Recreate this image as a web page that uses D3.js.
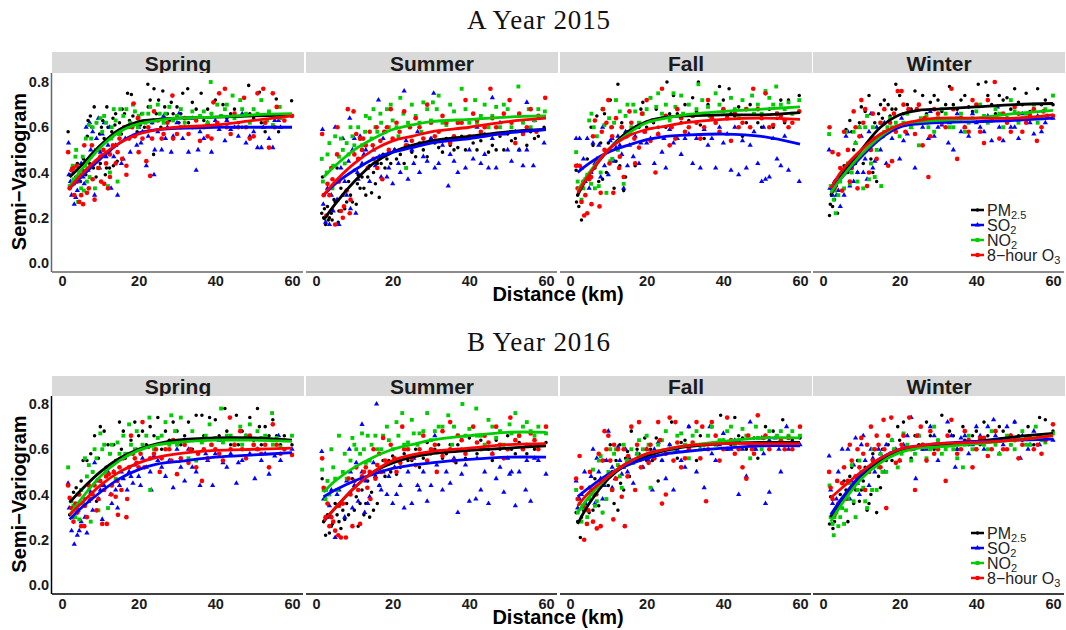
<!DOCTYPE html>
<html>
<head>
<meta charset="utf-8">
<script src="https://cdnjs.cloudflare.com/ajax/libs/d3/7.8.5/d3.min.js"></script>
<style>
  html, body { margin: 0; padding: 0; background: #fff; }
  svg { display: block; }
  text { font-family: "Liberation Sans", Arial, sans-serif; }
</style>
</head>
<body>
<svg width="1066" height="630"></svg>
<script>
const seasons = ["Spring", "Summer", "Fall", "Winter"];
const yearTitles = ["A", "B"];
const years = ["Year 2015", "Year 2016"];
const pollutants = ["PM", "SO", "NO", "8\u2212hour O"];
const pollutantSubs = ["2.5", "2", "2", "3"];
const xTicks = [0, 20, 40, 60];
const yTicks = [0, 0.2, 0.4, 0.6, 0.8];

// km positions the fitted curves were read at
const curveKm = [2, 5, 10, 15, 20, 25, 30, 40, 50, 60];

// fitted curves, order PM2.5, SO2, NO2, O3
const curves15Spring = [
  [.38,.43,.52,.59,.625,.635,.64,.645,.65,.655],
  [.33,.38,.46,.53,.575,.59,.595,.60,.60,.60],
  [.34,.41,.51,.58,.615,.63,.64,.645,.655,.66],
  [.33,.39,.47,.53,.57,.59,.60,.61,.63,.65]];
const curves15Summer = [
  [.19,.26,.36,.44,.49,.52,.54,.56,.58,.59],
  [.30,.35,.41,.46,.49,.51,.53,.55,.575,.59],
  [.38,.43,.50,.55,.59,.61,.625,.635,.645,.65],
  [.30,.36,.44,.50,.54,.56,.58,.60,.625,.64]];
const curves15Fall = [
  [.30,.39,.50,.58,.625,.645,.65,.655,.655,.665],
  [.40,.44,.49,.52,.545,.56,.565,.57,.56,.525],
  [.32,.40,.50,.57,.62,.64,.655,.67,.68,.69],
  [.31,.39,.50,.56,.59,.605,.62,.635,.64,.635]];
const curves15Winter = [
  [.30,.39,.50,.60,.655,.675,.68,.69,.70,.705],
  [.32,.38,.47,.55,.60,.615,.62,.625,.63,.64],
  [.31,.38,.48,.56,.61,.625,.63,.64,.66,.675],
  [.33,.41,.50,.57,.61,.63,.64,.64,.64,.655]];
const curves16Spring = [
  [.365,.42,.50,.56,.60,.625,.64,.65,.65,.64],
  [.29,.34,.41,.47,.51,.535,.545,.565,.575,.585],
  [.31,.38,.48,.55,.595,.62,.63,.64,.64,.635],
  [.31,.36,.44,.50,.54,.565,.58,.595,.60,.605]];
const curves16Summer = [
  [.28,.34,.43,.50,.54,.565,.58,.595,.605,.615],
  [.39,.42,.46,.49,.515,.53,.54,.555,.565,.565],
  [.41,.46,.52,.565,.60,.62,.64,.66,.675,.675],
  [.285,.34,.43,.50,.55,.575,.59,.605,.62,.625]];
const curves16Fall = [
  [.27,.36,.47,.535,.57,.595,.61,.625,.63,.63],
  [.39,.43,.49,.53,.56,.58,.59,.605,.615,.615],
  [.32,.39,.48,.54,.58,.60,.615,.635,.65,.65],
  [.35,.41,.48,.54,.58,.60,.615,.625,.625,.625]];
const curves16Winter = [
  [.30,.38,.48,.55,.59,.61,.62,.635,.655,.67],
  [.31,.385,.49,.56,.60,.615,.625,.635,.64,.645],
  [.28,.36,.47,.54,.585,.605,.61,.625,.64,.66],
  [.385,.43,.50,.56,.60,.615,.625,.63,.64,.66]];

// semivariogram points [km, value]
const pts15SpringPM = [[1.6,.58],[2,.39],[2.6,.42],[3.6,.38],[4.5,.36],[5.5,.41],[6.8,.63],[7.4,.65],[8.4,.69],[8.9,.38],[9.8,.57],[10.3,.6],[11.7,.69],[11.3,.39],[12.4,.42],[13.3,.64],[13.4,.43],[14,.66],[15.7,.68],[17.1,.75],[18.1,.745],[18.5,.65],[20.4,.61],[22.4,.79],[23,.72],[23.9,.48],[24,.77],[25.2,.72],[26.3,.76],[27.5,.66],[28.5,.71],[30,.69],[31.5,.75],[32.8,.77],[34,.71],[36.3,.75],[38,.68],[40,.72],[42,.7],[44,.66],[46,.62],[48.7,.785],[50,.64],[51.5,.755],[53,.58],[55.9,.725],[56.5,.58],[59.9,.717],
  [3,.4],[4,.44],[4.8,.36],[5.6,.46],[6.2,.39],[6.6,.56],[7.2,.44],[7.8,.6],[8.2,.42],[9,.62],[9.4,.5],[10,.44],[10.6,.63],[11,.55],[11.6,.42],[12,.6],[12.6,.5],[13,.58],[13.8,.61],[14.4,.45],[15,.62],[15.5,.57],[16.3,.66],[16.8,.6],[17.6,.63],[19,.67],[19.6,.58],[20.8,.66],[21.5,.6],[22.5,.69],[23.5,.62],[24.6,.66],[25.8,.6],[26.8,.69],[28,.63],[29,.66],[30.5,.62],[31,.66],[33,.62],[35,.68],[37,.63],[39,.66],[41,.6],[43,.64],[45,.68],[47,.6],[49,.66],[52,.62],[54,.66],[57,.64]];
const pts15SpringSO = [[1.7,.53],[1.8,.39],[2.5,.3],[3.2,.26],[3.6,.29],[4.5,.36],[5.8,.35],[6.3,.6],[7.2,.62],[8,.58],[8.5,.3],[9.5,.64],[10,.49],[11,.62],[12,.52],[12.8,.33],[13.5,.47],[14.5,.3],[16,.46],[17.8,.49],[19.5,.52],[21,.58],[22,.43],[24,.39],[24.2,.5],[26,.5],[27,.55],[28.5,.49],[30,.62],[31.5,.55],[33,.49],[35,.41],[35.5,.5],[37,.55],[39,.49],[40,.63],[42.5,.54],[44,.59],[46,.56],[48,.53],[50,.58],[51,.51],[52,.51],[54,.55],[55,.51],[56.5,.63],[57,.6],
  [2.2,.36],[3,.35],[4,.32],[5,.44],[5.5,.38],[6.8,.41],[7.5,.5],[8.2,.44],[9,.55],[9.8,.42],[10.5,.57],[11.5,.47],[12.4,.6],[13,.56],[14,.52],[15,.57],[15.5,.44],[16.5,.55],[17.3,.6],[18.5,.56],[20,.6],[20.6,.53],[22.5,.56],[23.5,.62],[25,.58],[26.5,.65],[27.5,.6],[29,.56],[30.5,.66],[32,.6],[34,.64],[36,.58],[38,.62],[41,.59],[43,.63],[45,.6],[47,.66],[49,.56],[52.5,.6],[55.5,.63]];
const pts15SpringNO = [[2,.34],[2.8,.43],[3.5,.47],[3.7,.5],[4.2,.27],[5,.33],[5.4,.47],[6,.43],[6.5,.36],[7,.61],[7.6,.55],[8.6,.33],[9,.62],[10,.64],[11,.65],[12,.34],[12.5,.4],[13.5,.68],[14.5,.36],[15.2,.68],[17,.6],[18.5,.7],[20,.65],[21,.66],[23,.69],[25,.7],[27,.66],[29,.63],[31,.68],[33,.64],[35,.6],[37,.67],[38.8,.8],[39,.66],[40.5,.7],[43,.7],[44.5,.74],[46.5,.72],[48,.66],[50,.68],[52,.72],[53.5,.63],[55,.61],[56.8,.69],[58,.65],
  [3,.37],[4.5,.4],[5.7,.32],[6.2,.55],[7.2,.38],[8,.6],[8.8,.5],[9.5,.42],[10.5,.58],[11.5,.62],[12.8,.55],[13,.6],[14,.63],[15,.57],[16,.65],[16.8,.68],[17.8,.62],[19,.67],[19.8,.6],[21.8,.62],[22.5,.66],[24,.63],[25.5,.66],[26.5,.62],[28,.69],[30,.65],[32,.62],[34,.67],[36,.65],[38,.62],[41.5,.65],[42.5,.68],[45,.64],[47,.68],[49,.62],[51,.66],[54,.67],[57,.64]];
const pts15SpringO3 = [[1.6,.49],[2,.33],[2.5,.41],[3.2,.3],[3.8,.43],[4.5,.27],[5.5,.26],[5.8,.52],[6.5,.31],[7.5,.47],[8.5,.28],[9.5,.42],[10.2,.36],[11,.35],[12,.33],[12.5,.38],[14,.44],[15,.55],[16.8,.39],[16.8,.43],[18.7,.705],[20,.49],[22,.45],[23,.385],[24,.67],[26,.55],[28.8,.74],[30,.57],[32,.64],[34,.6],[36,.54],[38,.56],[39.5,.71],[41,.75],[42.5,.77],[44,.57],[46,.6],[47.5,.73],[49,.55],[51,.75],[52.5,.77],[54,.51],[55,.75],[56,.69],[57,.65],[60,.65],
  [3,.42],[4,.36],[5,.3],[6,.4],[7,.33],[7.8,.52],[8,.37],[9,.45],[10,.47],[10.8,.5],[11.5,.44],[12.5,.48],[13.3,.52],[14.5,.49],[15.7,.46],[16.2,.6],[17.5,.55],[18.3,.6],[19,.56],[19.8,.64],[21,.55],[22.5,.6],[23.5,.55],[25,.63],[26.5,.57],[27.5,.62],[29,.55],[31,.6],[33,.57],[35,.63],[37,.6],[39,.55],[40.5,.62],[43,.6],[45,.66],[48,.6],[50,.56],[53,.62],[55.5,.6],[58,.63]];

const pts15SummerPM = [[1.5,.22],[1.7,.38],[2,.2],[2.5,.17],[3,.25],[3.5,.2],[4.2,.19],[5,.27],[5.5,.42],[6,.23],[7,.3],[8,.27],[9,.3],[10,.41],[10.5,.26],[11.5,.33],[12.5,.33],[13.5,.38],[14.5,.31],[15.5,.35],[16.5,.29],[17,.44],[18,.42],[19,.49],[21,.46],[23,.44],[25,.49],[27,.53],[29,.47],[31,.53],[33,.49],[35,.52],[37,.51],[39,.5],[41,.53],[43,.54],[45,.49],[47,.5],[49,.5],[51,.54],[53,.5],[55,.52],[57,.55],[59.5,.6],
  [2.2,.24],[3.2,.19],[4,.22],[4.7,.28],[5.8,.18],[6.5,.33],[7.5,.24],[8.5,.36],[9.5,.27],[10.8,.35],[11,.39],[12,.38],[13,.3],[14,.43],[15,.4],[16,.44],[17.5,.48],[18.5,.46],[19.5,.44],[20.5,.5],[22,.48],[24,.52],[26,.47],[28,.5],[30,.55],[32,.51],[34,.55],[36,.5],[38,.56],[40,.55],[42,.5],[44,.57],[46,.52],[48,.56],[50,.57],[52,.55],[54,.57],[56,.58],[58,.56]];
const pts15SummerSO = [[1.7,.59],[1.9,.26],[2.5,.18],[3.5,.17],[4.5,.23],[5,.6],[6,.17],[7,.55],[8,.3],[8.8,.64],[9,.24],[10,.55],[10.4,.22],[11,.37],[12.5,.48],[13.5,.42],[15,.5],[16.3,.72],[17,.38],[18.5,.38],[20,.35],[21.5,.44],[23,.76],[24,.37],[25,.5],[27,.4],[29,.45],[30.7,.75],[32,.44],[34.5,.34],[35,.48],[37,.4],[39,.42],[41,.46],[43,.44],[45,.42],[46,.73],[47,.42],[49,.57],[51,.45],[53,.5],[54,.43],[55,.71],[56.7,.43],[59.5,.53],
  [3,.33],[4,.3],[5.5,.28],[6.5,.42],[7.5,.36],[8.5,.45],[9.5,.5],[10.8,.4],[11.5,.56],[12,.44],[13,.5],[14,.36],[15.5,.43],[16.5,.47],[17.5,.55],[19,.42],[20.5,.5],[22,.4],[23.5,.54],[25.5,.44],[26.5,.58],[28,.47],[30,.55],[31,.42],[33,.52],[36,.45],[38,.55],[40,.5],[42,.6],[44,.48],[46,.55],[48,.62],[50,.5],[52,.58],[55,.5],[57,.63]];
const pts15SummerNO = [[1.5,.46],[1.8,.36],[2.8,.4],[3.5,.53],[4.3,.33],[5,.56],[6,.47],[7,.5],[8,.53],[9,.6],[10,.52],[11.5,.55],[13,.65],[14,.64],[15.5,.6],[16.8,.66],[18,.58],[19.5,.7],[21,.6],[22,.73],[23.5,.42],[25,.7],[27,.62],[29,.68],[30.5,.71],[32,.74],[34,.61],[36,.67],[38,.77],[40,.62],[41.5,.72],[43,.65],[45,.6],[47,.69],[49,.7],[51,.6],[52.8,.78],[54,.62],[55.5,.68],[57,.63],[59.7,.67],
  [3,.48],[4.5,.43],[6.5,.55],[7.5,.44],[8.5,.48],[9.5,.56],[11,.6],[12,.52],[12.8,.58],[14.5,.55],[15,.68],[16,.58],[17,.62],[18.5,.68],[19,.6],[20,.63],[21.5,.56],[22.8,.66],[24,.62],[26,.65],[27.5,.58],[28,.71],[30,.63],[31.5,.68],[33,.62],[35,.7],[37,.62],[39,.68],[42,.62],[44,.7],[46,.65],[48,.6],[50,.68],[53,.65],[56,.6],[58,.68]];
const pts15SummerO3 = [[1.6,.57],[2,.3],[2.7,.21],[3.5,.3],[4.3,.37],[5,.17],[5.6,.6],[6.5,.23],[7.3,.25],[8.3,.68],[9,.28],[9.8,.67],[10.5,.57],[11,.46],[12.3,.55],[13.5,.42],[15,.46],[16,.42],[17.3,.37],[18.5,.6],[19.5,.68],[21,.62],[23,.67],[25,.54],[27,.6],[29,.7],[31,.56],[33,.65],[35,.53],[37,.62],[39,.72],[41,.66],[43,.58],[45.5,.77],[47,.6],[49,.66],[50.5,.72],[52,.53],[54,.57],[56,.68],[57.5,.58],[59.8,.73],
  [3,.35],[4,.42],[5.5,.48],[6,.36],[7,.2],[8,.32],[8.8,.22],[10,.48],[11.5,.55],[12,.5],[13,.52],[14,.58],[14.8,.52],[15.8,.6],[16.8,.54],[17.8,.58],[19,.5],[20,.55],[21.8,.58],[23.5,.52],[24.5,.6],[26,.64],[28,.55],[30,.62],[32,.58],[34,.62],[36,.56],[38,.62],[40,.56],[42,.63],[44,.6],[46,.64],[48,.57],[51,.62],[53,.66],[55,.6],[58,.65]];

const pts15FallPM = [[1.6,.41],[1.7,.27],[2,.3],[2.3,.25],[3,.19],[4.5,.46],[6,.52],[7,.65],[8,.53],[8.5,.37],[9,.66],[10,.53],[10.5,.72],[11.5,.33],[12.5,.79],[13,.43],[14,.32],[15.5,.67],[17,.43],[19,.71],[21,.73],[23,.6],[24,.64],[25.3,.8],[27,.74],[29,.62],[30,.7],[32,.73],[33.5,.8],[35,.55],[37,.65],[39,.78],[40,.72],[41.5,.77],[43,.65],[45,.56],[47,.7],[49,.62],[51,.75],[53,.6],[55,.72],[57,.72],[59.8,.74],
  [3.5,.36],[5,.38],[5.5,.6],[6.5,.42],[7.5,.36],[9.5,.4],[11,.6],[12,.45],[13.5,.62],[14.5,.38],[15,.58],[16,.62],[18,.6],[18.5,.68],[20,.6],[21.8,.62],[22.5,.68],[25,.6],[26,.66],[28,.66],[31,.63],[33,.67],[34,.61],[36,.7],[38,.62],[42,.66],[44,.69],[46,.62],[48,.66],[50,.6],[52,.68],[54,.64],[56,.62],[58,.66]];
const pts15FallSO = [[1.6,.55],[1.9,.43],[2.5,.55],[3.5,.46],[4.5,.55],[5,.33],[6,.53],[7,.46],[8.5,.6],[9.5,.49],[10,.39],[11,.55],[12,.51],[13.5,.48],[14,.33],[15,.43],[16.5,.47],[18,.44],[20,.53],[22,.44],[24,.49],[25,.42],[27,.53],[29,.48],[30,.55],[32,.44],[34,.42],[36,.52],[38,.42],[40,.53],[42,.41],[44,.39],[46,.42],[47,.52],[49,.44],[50,.36],[51,.37],[52,.38],[54,.46],[55,.43],[57,.41],[59.8,.36],
  [3,.42],[4,.36],[5.5,.4],[6.5,.44],[7.5,.52],[8,.38],[9,.43],[10.5,.54],[11.5,.45],[12.5,.56],[13,.52],[14.5,.58],[15.5,.52],[17,.56],[18.5,.53],[19.5,.58],[21,.55],[23,.57],[24.5,.55],[26,.59],[28,.55],[31,.57],[33,.55],[35,.59],[37,.55],[39,.6],[41,.57],[43,.6],[45,.54],[48,.58],[50.5,.6],[53,.55],[56,.56]];
const pts15FallNO = [[1.6,.49],[2,.36],[3,.28],[4,.37],[5,.63],[5.6,.66],[6.5,.33],[7.5,.34],[8.5,.68],[9.5,.31],[10.2,.64],[11,.46],[12,.72],[13,.67],[14,.35],[15,.7],[17,.67],[19,.66],[21,.73],[23,.75],[25,.7],[27,.75],[29,.74],[31,.7],[33,.68],[33.5,.79],[36,.69],[38,.75],[40,.67],[42,.73],[44,.64],[46,.68],[47.5,.74],[49,.7],[51,.76],[53,.7],[53.8,.78],[55,.7],[57,.71],[59.8,.72],
  [3.5,.33],[4.5,.39],[5.5,.35],[6.2,.6],[7,.56],[8,.4],[9,.61],[10.5,.45],[11.5,.62],[12.5,.5],[13.5,.6],[14.5,.65],[16,.6],[16.5,.7],[18,.62],[20,.68],[21.5,.63],[22.5,.69],[24,.66],[26,.63],[27.5,.69],[29.5,.66],[32,.65],[34.5,.72],[36.5,.65],[39,.7],[41,.64],[43,.68],[45,.72],[48,.66],[50,.66],[52,.73],[54,.66],[56,.68],[58,.66]];
const pts15FallO3 = [[1.6,.43],[2,.33],[2.5,.43],[3,.27],[3.7,.21],[4.5,.22],[5,.37],[5.6,.26],[6.5,.63],[7.7,.25],[8,.31],[8.6,.68],[9.5,.62],[10,.72],[10.3,.44],[11.3,.31],[13,.47],[14,.38],[15.5,.67],[17,.44],[18,.51],[20,.72],[21,.54],[22.3,.4],[24,.77],[26,.52],[28,.68],[30,.58],[32,.65],[34,.55],[36,.72],[38,.62],[40,.68],[42,.54],[44,.6],[46,.68],[47.8,.77],[49,.68],[51,.75],[53,.61],[55,.65],[57,.6],[59.8,.67],
  [3.5,.36],[4,.3],[5.5,.38],[6,.56],[7,.45],[8.3,.58],[9,.5],[10.8,.6],[11,.56],[12,.64],[12.8,.42],[13.5,.6],[14.8,.56],[16,.62],[16.8,.55],[18.8,.66],[19.5,.58],[21.5,.63],[23,.57],[25,.65],[26.5,.6],[27.5,.55],[29,.64],[31,.6],[33,.62],[35,.6],[37,.64],[39,.58],[41,.64],[43,.66],[45,.62],[47,.6],[50,.64],[52,.6],[54,.66],[56,.63],[58,.62]];

const pts15WinterPM = [[1.7,.21],[1.9,.26],[2.5,.25],[3,.28],[3.8,.22],[5,.39],[6,.59],[7,.63],[8,.5],[9,.4],[10,.69],[11,.67],[12,.74],[13,.4],[14,.36],[15,.7],[16,.72],[18,.68],[19,.79],[20,.74],[22,.7],[24,.76],[26,.74],[28,.71],[30,.72],[32,.7],[33,.78],[35,.68],[37,.74],[39,.67],[40.5,.79],[42.5,.8],[44,.7],[46,.74],[48,.73],[50,.77],[51,.71],[53,.75],[55,.68],[56,.77],[58,.72],[60,.7],
  [2.2,.3],[3.5,.34],[4.5,.38],[5.5,.43],[6.5,.4],[7.5,.58],[8.5,.44],[9.5,.62],[10.5,.44],[11.5,.5],[12.5,.46],[13.5,.62],[14.5,.66],[15.5,.64],[17,.7],[17.5,.65],[19,.68],[21,.66],[23,.68],[25,.7],[27,.66],[29,.74],[31,.67],[34,.7],[36,.72],[38,.69],[41,.7],[43,.74],[45,.66],[47,.72],[49,.68],[52,.7],[54,.67],[57,.7]];
const pts15WinterSO = [[1.6,.5],[1.8,.33],[2.5,.3],[3.5,.3],[4.5,.25],[5.5,.3],[6,.56],[7,.34],[8.5,.53],[9.5,.6],[10.5,.4],[11.5,.37],[12.5,.66],[13.5,.45],[15,.5],[16.5,.44],[18,.55],[20,.46],[22,.57],[24,.42],[26,.6],[27.5,.55],[29,.56],[31,.61],[32.7,.53],[34,.5],[36,.58],[38,.56],[40,.62],[42,.58],[44,.54],[45.5,.69],[47,.54],[49,.6],[51,.55],[53,.64],[55,.57],[57,.58],[60,.64],
  [3,.36],[4,.32],[5,.4],[6.5,.58],[7.5,.44],[8,.36],[9,.4],[10,.56],[11,.46],[12,.58],[13,.42],[14,.6],[15.5,.56],[16,.62],[17,.58],[19,.6],[20.5,.64],[21,.54],[23,.6],[25,.62],[27,.62],[28,.67],[30,.6],[33,.62],[35,.66],[37,.6],[39,.66],[41,.6],[43,.65],[46,.6],[48,.64],[50,.6],[52,.66],[54,.62],[56,.65],[58,.62]];
const pts15WinterNO = [[1.6,.57],[2,.34],[2.8,.28],[3.3,.22],[4,.3],[5,.4],[6,.58],[7,.35],[8.5,.53],[9.5,.6],[10.5,.33],[11.5,.65],[12.5,.44],[13.5,.38],[15.2,.34],[16,.58],[18,.6],[20,.56],[22,.66],[24,.62],[25,.52],[27,.65],[29,.58],[31,.68],[33,.6],[35,.64],[37,.58],[39,.64],[41,.7],[43,.62],[45,.68],[47,.6],[49,.72],[51,.62],[53,.66],[55,.7],[57,.64],[60,.74],
  [3,.32],[4.5,.36],[5.5,.33],[6.5,.44],[7.5,.4],[8,.58],[9,.36],[10,.48],[11,.6],[12,.37],[13,.6],[14,.5],[15,.62],[16.8,.6],[17.5,.64],[19,.62],[21,.62],[23,.6],[25.5,.64],[27.5,.6],[30,.64],[32,.66],[34,.6],[36,.66],[38,.62],[40,.67],[42,.65],[44,.63],[46,.66],[48,.64],[50,.67],[52,.64],[54,.66],[56,.62],[58,.68]];
const pts15WinterO3 = [[1.7,.6],[2.5,.49],[3,.33],[4,.48],[5,.32],[5.5,.58],[6,.41],[7,.36],[8,.67],[9,.33],[10,.72],[11.5,.34],[12.5,.5],[13.5,.55],[15,.62],[17,.43],[18,.45],[19.5,.76],[20.5,.76],[22.3,.68],[24,.57],[25,.7],[26,.52],[27.5,.38],[29,.68],[31,.62],[33.5,.77],[35,.46],[37,.6],[39,.72],[41,.58],[42,.53],[43,.72],[44.8,.8],[46,.55],[48,.62],[50,.69],[52,.58],[54,.65],[55.8,.54],[57.5,.67],[60,.65],
  [3.5,.36],[4.5,.42],[6.5,.5],[7.5,.42],[8.5,.6],[9.5,.56],[10.5,.62],[11,.68],[12,.4],[13,.66],[14,.46],[15.5,.56],[16,.68],[17.5,.62],[18.5,.66],[19,.58],[21,.7],[21.5,.58],[23,.62],[24.5,.68],[26.5,.64],[28,.56],[30,.66],[32,.6],[34,.68],[36,.64],[38,.58],[40,.7],[44,.63],[47,.66],[49,.58],[51,.66],[53,.62],[55,.68],[57,.6],[58.5,.65]];

const pts16SpringPM = [[2,.31],[3,.41],[3.7,.43],[4.5,.4],[5.5,.55],[6.5,.55],[7,.42],[8.5,.66],[9,.37],[10,.7],[11,.68],[12,.62],[13,.4],[14,.55],[15,.72],[16,.68],[17,.58],[19,.72],[21,.68],[23,.7],[25,.74],[27,.68],[29,.72],[31,.62],[33,.72],[35,.75],[36.5,.75],[38.5,.74],[40,.73],[42.5,.78],[44,.62],[45.5,.75],[47,.68],[49,.74],[51,.78],[51.5,.7],[53,.7],[55,.73],[56,.66],[58,.66],[60,.62],
  [2.5,.37],[4,.36],[5,.46],[6,.38],[7.5,.58],[8,.5],[9.5,.56],[10.5,.44],[11.5,.52],[12.5,.58],[13.5,.62],[14.5,.46],[15.5,.6],[16.5,.56],[18,.64],[19.5,.6],[20,.66],[22,.62],[24,.66],[26,.6],[28,.64],[30,.68],[32,.66],[34,.6],[37,.66],[39,.62],[41,.66],[43,.68],[46,.62],[48,.66],[50,.64],[52,.62],[54,.66],[57,.62]];
const pts16SpringSO = [[1.6,.45],[1.9,.34],[2.5,.24],[3.2,.18],[4,.22],[4.5,.24],[5.5,.36],[6.5,.23],[7.5,.41],[8.5,.54],[9.5,.38],[10.5,.29],[12,.5],[13,.36],[14,.42],[15.5,.5],[17,.42],[18.5,.45],[20,.48],[22,.52],[23.3,.42],[25,.55],[27,.48],[29,.43],[30,.6],[32,.46],[34,.52],[36,.44],[37.5,.58],[39.3,.44],[41,.64],[43,.52],[45.5,.45],[47,.55],[48,.66],[50.3,.47],[52,.55],[54,.49],[55.5,.57],[56.5,.66],[60,.6],
  [3,.3],[4.2,.33],[5,.28],[6,.3],[7,.37],[8,.33],[9,.46],[10,.42],[11,.44],[12.7,.4],[13.5,.5],[14.5,.34],[15,.44],[16,.47],[17.5,.5],[18,.48],[19,.53],[20.5,.44],[21,.56],[23,.5],[24,.57],[26,.52],[28,.55],[31,.52],[33,.6],[35,.5],[38,.55],[40,.58],[42,.54],[44,.58],[46,.54],[49,.58],[51,.6],[53,.58],[57,.55]];
const pts16SpringNO = [[1.6,.52],[2.3,.37],[3.5,.3],[4.5,.29],[5.5,.36],[6,.56],[7,.53],[7.5,.28],[8.5,.6],[9.5,.33],[10,.67],[10.5,.6],[12,.34],[13,.62],[14,.47],[15,.58],[16,.66],[17.5,.71],[19,.6],[20.5,.6],[22.8,.74],[23,.42],[25,.65],[27,.72],[28.5,.75],[30,.62],[31,.74],[33,.56],[35,.55],[36.5,.63],[38.5,.71],[40,.65],[41.5,.78],[43,.66],[45,.62],[46.5,.7],[49,.71],[51,.68],[53,.66],[54.8,.76],[56,.65],[57,.61],[60,.66],
  [3,.35],[4,.4],[5,.42],[6.5,.48],[8,.5],[9,.56],[11,.62],[11.5,.5],[12.5,.58],[13.5,.54],[14.5,.63],[16.5,.58],[18,.62],[19.5,.68],[21,.62],[22,.66],[24,.6],[26,.66],[28,.62],[29.5,.68],[32,.64],[34,.68],[37.5,.66],[39,.62],[42,.63],[44,.66],[47,.62],[48,.66],[50,.62],[52,.65],[55,.62],[58,.64]];
const pts16SpringO3 = [[1.6,.44],[2,.385],[3,.28],[4,.32],[5,.26],[5.8,.26],[6.5,.3],[7.5,.38],[8.5,.44],[9.5,.38],[10.5,.27],[11.7,.27],[12.2,.49],[13,.44],[14,.39],[14.6,.31],[15,.52],[16.8,.3],[17,.38],[18,.66],[19,.56],[20,.52],[21,.72],[22.5,.61],[24,.58],[25.5,.5],[27,.6],[28.5,.55],[30,.49],[32,.62],[33,.54],[35,.52],[36.5,.46],[38,.56],[40,.6],[42,.55],[43.8,.74],[45,.62],[46.5,.68],[48,.56],[50,.62],[52,.58],[54,.52],[55,.71],[57,.58],[60,.575],
  [2.5,.34],[3.5,.36],[4.5,.4],[6,.35],[7,.44],[8,.4],[9,.33],[10,.46],[11,.42],[11.5,.48],[12.8,.4],[13.5,.5],[14.4,.46],[15.5,.42],[16,.56],[17.5,.52],[18.5,.58],[19.5,.54],[20.5,.58],[21.5,.52],[23,.56],[24.5,.6],[26,.56],[28,.6],[29,.64],[31,.56],[33.5,.6],[35.5,.58],[37,.6],[39,.62],[41,.58],[44,.6],[47,.6],[49,.66],[51,.6],[53,.62],[56,.62],[58,.6]];

const pts16SummerPM = [[1.6,.47],[2,.28],[2.5,.22],[3.5,.23],[4.3,.27],[5,.36],[6,.28],[7,.33],[8,.36],[9,.41],[10,.33],[11,.26],[12,.42],[13,.36],[14,.3],[15,.33],[16,.36],[17,.52],[18,.48],[19,.55],[21,.49],[23,.58],[25,.55],[27,.52],[29,.63],[31,.6],[33,.56],[35,.62],[36.5,.54],[38,.6],[40,.65],[42,.58],[44,.62],[46,.55],[48,.6],[50,.66],[52,.58],[54,.6],[56,.62],[58,.62],[60,.63],
  [3,.31],[4,.26],[5.5,.31],[6.5,.25],[7.5,.29],[8.5,.31],[9.5,.47],[10.5,.39],[11.5,.36],[12.5,.31],[13.5,.46],[14.5,.41],[15.5,.48],[16.5,.44],[17.5,.55],[19.5,.5],[20,.57],[22,.52],[24,.55],[26,.6],[28,.56],[30,.58],[32,.62],[34,.58],[37,.62],[39,.56],[41,.6],[43,.64],[45,.6],[47,.64],[49,.62],[51,.6],[53,.63],[55,.58],[57,.6]];
const pts16SummerSO = [[1.5,.59],[2,.38],[3,.3],[4,.42],[5,.21],[6,.42],[7.5,.3],[8.7,.6],[9.5,.34],[10.5,.54],[12,.71],[12.7,.32],[14,.39],[15.5,.48],[15.8,.8],[17,.42],[18.5,.4],[20,.36],[21,.4],[23,.34],[25,.36],[27,.42],[29,.37],[31,.66],[33,.42],[35,.45],[37,.32],[38,.49],[40,.37],[41.7,.38],[43,.42],[45,.36],[47,.47],[49,.41],[50.5,.49],[52,.35],[53,.5],[54.7,.42],[56,.37],[57,.56],[60,.49],
  [2.5,.42],[3.5,.35],[5.5,.4],[6.5,.36],[8,.46],[9,.5],[10,.44],[11,.37],[12,.5],[13,.46],[13.5,.36],[15,.54],[16.5,.44],[17.5,.5],[19,.48],[20.5,.52],[22,.44],[24,.5],[25.5,.56],[26.5,.44],[28,.5],[30,.44],[31.5,.53],[34,.5],[36,.56],[39,.53],[42,.56],[44,.5],[46,.58],[48,.52],[50,.56],[51,.5],[55,.55],[58,.55]];
const pts16SummerNO = [[1.6,.51],[2,.42],[3,.46],[4,.6],[5,.47],[6,.66],[7,.5],[8,.47],[9.5,.65],[10.5,.6],[12,.67],[13,.54],[14.5,.62],[15.5,.66],[17,.6],[18.5,.7],[20,.6],[21,.72],[22.5,.76],[24,.63],[25,.73],[27,.67],[29,.76],[31,.68],[33,.7],[34.5,.75],[35.5,.62],[37,.66],[38.2,.8],[40,.69],[41.8,.78],[43,.66],[45,.73],[47,.65],[49,.62],[50.5,.71],[52,.76],[54,.7],[56,.68],[58,.7],[60,.67],
  [2.5,.38],[3.5,.4],[4.5,.52],[5.5,.42],[7.5,.58],[9,.55],[10,.62],[11.5,.58],[12.5,.6],[13.5,.66],[14,.55],[16,.6],[17.5,.66],[19,.64],[21.5,.66],[23,.62],[25.5,.67],[26.5,.62],[28,.68],[30,.64],[32,.7],[36,.7],[39,.66],[42,.66],[44,.62],[46,.7],[48,.68],[51,.67],[53,.66],[55,.72],[57,.66]];
const pts16SummerO3 = [[1.6,.56],[2,.43],[3,.36],[4,.3],[5,.24],[5.8,.22],[6.5,.21],[7.8,.21],[9,.4],[9.5,.26],[10,.46],[11.5,.27],[12.5,.5],[13.4,.43],[14.2,.38],[15,.6],[16,.53],[17.5,.65],[19,.54],[21,.5],[22.5,.7],[24,.6],[26,.53],[28,.66],[30,.6],[31.5,.5],[33,.68],[35,.72],[37,.66],[39,.58],[41,.7],[43,.6],[45,.63],[47,.7],[49,.56],[50.7,.74],[52,.64],[54,.6],[56,.67],[58,.6],[60,.7],
  [2.5,.3],[3.5,.26],[4.5,.28],[6,.35],[7,.36],[8.5,.47],[10.5,.52],[11,.42],[12,.48],[13,.52],[14,.5],[15.5,.47],[16.5,.58],[17,.5],[18,.55],[19.5,.62],[20.5,.56],[22,.54],[23,.6],[25,.56],[27,.6],[29,.55],[31,.62],[33,.57],[35,.6],[36,.55],[38,.64],[40,.6],[42,.63],[44,.66],[46,.58],[48,.62],[50,.6],[53,.66],[55,.62],[57,.64]];

const pts16FallPM = [[1.6,.32],[2,.28],[2.7,.21],[3.5,.33],[4.5,.27],[5.5,.4],[6.5,.47],[7.5,.35],[8.5,.32],[9.5,.48],[10.5,.62],[11.5,.36],[12.5,.33],[13.2,.45],[14,.42],[15,.59],[16,.68],[17.5,.6],[19,.52],[20,.55],[21.5,.55],[23,.46],[25,.58],[26.5,.72],[28,.56],[29,.63],[31,.7],[33,.55],[35,.6],[37,.7],[38.5,.62],[39.3,.75],[41,.6],[43,.74],[45,.65],[47,.62],[49,.56],[51,.7],[53,.68],[54.5,.63],[55.5,.73],[57,.66],[60,.65],
  [3,.3],[4,.36],[5,.32],[6,.33],[7,.4],[8,.46],[9,.55],[10,.44],[11,.5],[12,.55],[13,.62],[14.5,.56],[15.5,.48],[16.5,.54],[18,.58],[19.5,.65],[21,.6],[22.5,.65],[24,.55],[26,.62],[27.5,.6],[30,.64],[32,.62],[34,.66],[36,.62],[38,.66],[40,.64],[42,.62],[44,.66],[46,.6],[48,.65],[50,.62],[52,.65],[56,.62],[58,.64]];
const pts16FallSO = [[1.6,.46],[2,.34],[3,.4],[3.8,.5],[5,.43],[6,.6],[7,.56],[8,.47],[9,.44],[10,.68],[11,.43],[12.5,.61],[13.5,.49],[15,.5],[16.5,.45],[18,.55],[20,.6],[21.5,.42],[23,.63],[25,.47],[27,.42],[29,.55],[31,.7],[33,.5],[35,.43],[36.5,.7],[38,.55],[40,.67],[42,.6],[44,.4],[46,.48],[47,.72],[48.5,.6],[50,.65],[51,.36],[52,.41],[53.5,.65],[55,.5],[56.5,.7],[58,.63],[60,.62],
  [2.5,.38],[4,.36],[5.5,.48],[6.5,.36],[7.5,.5],[8.5,.38],[9.5,.55],[11,.52],[11.8,.47],[13,.55],[14,.52],[14.5,.6],[15.5,.56],[17.5,.58],[19,.52],[20.5,.55],[22,.6],[24,.55],[26,.62],[28,.6],[30,.52],[32,.62],[34,.6],[37,.58],[39,.62],[41,.6],[43,.64],[45,.6],[48,.6],[50.5,.58],[52,.64],[54.5,.6],[57,.6]];
const pts16FallNO = [[1.6,.42],[2,.32],[3,.28],[4,.33],[5,.38],[6,.51],[6.5,.35],[7.5,.55],[8.5,.32],[9.5,.38],[10.5,.6],[11.5,.58],[12.5,.53],[13.5,.43],[15,.55],[16,.6],[18,.64],[20,.66],[21,.43],[23,.62],[25,.68],[27,.6],[29,.67],[31,.56],[33,.68],[35,.62],[37,.7],[39,.64],[41,.68],[43,.62],[45,.69],[47,.56],[48.5,.7],[50,.6],[52,.68],[53.5,.62],[55,.68],[57,.66],[60,.66],
  [2.5,.36],[3.5,.34],[4.5,.3],[5.5,.42],[7,.37],[8,.57],[9,.45],[10,.5],[11,.42],[12,.6],[13,.48],[14,.62],[14.8,.55],[16.5,.54],[17.5,.58],[19,.6],[20.5,.62],[22,.58],[24,.64],[26,.6],[28,.66],[30,.62],[32,.66],[34,.6],[36,.66],[38,.62],[40,.64],[42,.7],[44,.64],[46,.66],[49,.65],[51,.62],[54,.66],[56,.62],[58,.68]];
const pts16FallO3 = [[1.6,.47],[2,.38],[2.5,.57],[3,.43],[3.7,.2],[4.4,.27],[5.2,.5],[6,.28],[7,.25],[8,.26],[8.5,.55],[9,.68],[10,.66],[11.3,.29],[12,.47],[13.5,.39],[14.3,.26],[15.2,.57],[16,.7],[17,.42],[18,.72],[19,.57],[21,.62],[23,.72],[24,.36],[25,.4],[26,.74],[27.5,.72],[29,.52],[31,.6],[33,.72],[34.5,.7],[35.5,.37],[37,.72],[39,.55],[41,.74],[43,.58],[45,.52],[46,.47],[47.5,.6],[49,.75],[50.5,.65],[52,.6],[54,.62],[56,.6],[57,.65],[60,.7],
  [3.5,.35],[4.8,.33],[5.8,.42],[6.7,.4],[7.5,.58],[9.5,.6],[10.5,.55],[11,.42],[11.5,.62],[12.5,.6],[13,.52],[14,.6],[15,.48],[16.5,.55],[17.5,.62],[18.5,.52],[20,.6],[20.5,.54],[22,.56],[23.5,.64],[25,.58],[27,.55],[28,.63],[30,.56],[32,.63],[34,.56],[36,.6],[38,.66],[40,.6],[42,.64],[44,.6],[46.5,.66],[48,.58],[51,.66],[53,.62],[55,.64],[58,.6]];

const pts16WinterPM = [[1.7,.27],[2,.39],[2.6,.25],[3.5,.33],[4.5,.4],[5.5,.46],[6.5,.28],[7.5,.52],[8.5,.42],[9.5,.37],[10.5,.46],[11.5,.33],[12.5,.4],[14,.32],[15,.43],[16.5,.55],[18,.55],[19.5,.7],[21,.72],[23,.56],[25,.62],[27,.72],[29,.6],[31,.75],[33,.68],[35,.6],[36.5,.7],[38,.62],[40,.68],[42,.72],[44,.6],[46,.7],[48,.65],[50,.72],[52,.64],[53.5,.7],[55,.62],[56.5,.74],[58,.73],[60,.68],
  [3,.28],[4,.34],[5,.38],[6,.42],[7,.48],[8,.36],[9,.55],[10,.42],[11,.52],[12,.36],[13,.58],[14.5,.48],[15.5,.6],[17,.62],[18.5,.6],[20,.64],[22,.6],[24,.66],[26,.6],[28,.66],[30,.64],[32,.62],[34,.66],[37,.64],[39,.66],[41,.62],[43,.66],[45,.64],[47,.68],[49,.62],[51,.66],[54,.66],[57,.64]];
const pts16WinterSO = [[1.6,.57],[2,.42],[3,.33],[4,.5],[5,.6],[6,.4],[7,.38],[8,.53],[8.5,.65],[9.5,.4],[10.5,.66],[12,.44],[13,.56],[14.5,.6],[16,.5],[18,.64],[20,.55],[22,.66],[23,.74],[24.2,.47],[26,.6],[28,.7],[30,.55],[32.5,.72],[34.5,.52],[36,.65],[38,.58],[40,.7],[42,.6],[43,.7],[44.5,.73],[46,.58],[48,.7],[50,.72],[51.5,.56],[53.5,.6],[55,.68],[56.5,.62],[58,.66],[60,.64],
  [2.5,.36],[3.5,.38],[5.5,.38],[6.5,.6],[7.5,.46],[9,.45],[10,.62],[11,.55],[12.5,.6],[13.5,.5],[15,.58],[16.5,.62],[17.5,.58],[19,.6],[21,.62],[23.5,.6],[25,.66],[27,.6],[29,.66],[31,.62],[33.5,.66],[35,.6],[37,.66],[39,.62],[41,.66],[45,.66],[47,.62],[49,.66],[52,.66],[54,.62],[57,.66]];
const pts16WinterNO = [[1.7,.44],[2,.3],[2.8,.22],[3.5,.32],[4.5,.3],[5.5,.27],[6.5,.38],[7.5,.53],[8.5,.3],[9.5,.55],[10.5,.43],[11.5,.34],[13,.6],[14,.42],[15,.58],[16.5,.5],[18,.64],[19.5,.52],[21,.67],[23,.55],[25,.66],[27,.56],[29,.7],[31,.58],[33,.62],[35,.56],[36.5,.52],[38,.66],[40,.6],[42,.62],[44,.68],[46,.58],[48,.66],[50,.6],[52,.68],[54,.62],[55.5,.7],[57,.64],[60,.67],
  [2.5,.27],[3,.3],[4,.26],[5,.34],[6,.33],[7,.45],[8,.37],[9,.42],[10,.5],[11,.37],[12,.5],[12.8,.42],[14.5,.52],[15.5,.5],[17,.57],[18.5,.6],[20.5,.58],[22,.62],[24,.58],[26,.62],[28,.6],[30,.64],[32,.6],[34,.6],[37,.62],[39,.6],[41,.64],[43,.6],[45,.62],[47,.64],[49,.62],[51,.65],[53,.62],[56,.66],[58,.63]];
const pts16WinterO3 = [[1.6,.5],[2,.43],[3,.31],[3.7,.46],[5,.45],[6,.38],[7,.62],[8,.43],[9,.6],[10,.65],[11,.42],[12.5,.7],[13.5,.6],[14.5,.62],[15.8,.73],[16.5,.34],[17.8,.74],[19,.54],[21,.66],[22.5,.74],[24,.42],[25.5,.7],[27,.55],[29,.58],[31,.62],[32,.46],[33.5,.73],[35,.58],[37,.68],[39,.52],[41,.65],[43,.57],[45,.68],[47,.6],[49,.66],[51,.56],[53,.65],[55,.6],[57,.58],[60,.71],
  [2.5,.38],[4,.36],[5.5,.52],[6.5,.46],[7.5,.55],[8.5,.48],[9.5,.52],[10.5,.58],[11.5,.62],[12,.5],[13,.55],[14,.66],[15,.52],[16,.6],[17,.66],[18,.58],[20,.55],[20.5,.62],[23,.6],[24.5,.66],[26,.62],[28,.68],[30,.6],[32.5,.66],[34,.62],[36,.6],[38,.64],[40,.6],[42,.65],[44,.6],[46,.64],[48,.6],[50,.64],[52,.62],[54,.65],[56,.62],[58,.64]];

const curveTable = [
  [curves15Spring, curves15Summer, curves15Fall, curves15Winter],
  [curves16Spring, curves16Summer, curves16Fall, curves16Winter]
];
const pointTable = [
  [[pts15SpringPM, pts15SpringSO, pts15SpringNO, pts15SpringO3],
   [pts15SummerPM, pts15SummerSO, pts15SummerNO, pts15SummerO3],
   [pts15FallPM, pts15FallSO, pts15FallNO, pts15FallO3],
   [pts15WinterPM, pts15WinterSO, pts15WinterNO, pts15WinterO3]],
  [[pts16SpringPM, pts16SpringSO, pts16SpringNO, pts16SpringO3],
   [pts16SummerPM, pts16SummerSO, pts16SummerNO, pts16SummerO3],
   [pts16FallPM, pts16FallSO, pts16FallNO, pts16FallO3],
   [pts16WinterPM, pts16WinterSO, pts16WinterNO, pts16WinterO3]]
];

const colors = ["#000000", "#0000ff", "#00cd00", "#ff0000"];
const symbols = [
  d3.symbol().type(d3.symbolCircle).size(10)(),
  d3.symbol().type(d3.symbolTriangle).size(12)(),
  d3.symbol().type(d3.symbolSquare).size(15)(),
  d3.symbol().type(d3.symbolCircle).size(17)()
];

const svg = d3.select("svg");
const defs = svg.append("defs");

// geometry of the two rows and four facets
const panelLefts = [52, 306, 560, 813];
const panelWidth = 252;
const rows = [
  { stripTop: 52, top: 73, bottom: 272, zero: 263, high: 82, title: 29, xlabel: 301, tick: 285, legendY: 210, axis: "#666" },
  { stripTop: 376, top: 396, bottom: 594, zero: 585, high: 404, title: 351, xlabel: 624, tick: 608, legendY: 533, axis: "#000" }
];

const x = d3.scaleLinear().domain([0, 60]).range([10, 240]);
// catmull-rom: monotone left a kink in the first segment
const line = d3.line().curve(d3.curveCatmullRom.alpha(0.5));

rows.forEach((row, r) => {
  const y = d3.scaleLinear().domain([0, 0.8]).range([row.zero, row.high]);
  const rowG = svg.append("g");

  rowG.append("text")
    .attr("x", 467).attr("y", row.title)
    .attr("textLength", 143).attr("lengthAdjust", "spacing")
    .style("font-family", "'Liberation Serif', serif")
    .style("font-size", "27px").attr("fill", "#111")
    .text(yearTitles[r] + " " + years[r]);

  seasons.forEach((season, s) => {
    const left = panelLefts[s];
    const g = rowG.append("g").attr("transform", `translate(${left},0)`);

    g.append("rect")
      .attr("y", row.stripTop).attr("width", panelWidth).attr("height", row.top - row.stripTop)
      .attr("fill", "#d9d9d9");

    // strip text runs into the panel and gets cut, like in the original
    const clipId = `strip-${r}-${s}`;
    defs.append("clipPath").attr("id", clipId).append("rect")
      .attr("x", left).attr("y", row.stripTop).attr("width", panelWidth).attr("height", row.top - row.stripTop);
    rowG.append("text")
      .attr("clip-path", `url(#${clipId})`)
      .attr("x", left + panelWidth / 2).attr("y", row.top - 2)
      .attr("text-anchor", "middle")
      .attr("font-weight", "bold").attr("font-size", 21).attr("fill", "#1a1a1a")
      .text(season);

    pointTable[r][s].forEach((pts, k) => {
      g.append("g").selectAll("path")
        .data(pts)
        .join("path")
        .attr("d", symbols[k])
        .attr("fill", colors[k])
        .attr("transform", d => `translate(${x(d[0])},${y(d[1])})`);
    });

    curveTable[r][s].forEach((vals, k) => {
      g.append("path")
        .attr("fill", "none")
        .attr("stroke", colors[k])
        .attr("stroke-width", 2.8)
        .attr("d", line(vals.map((v, i) => [x(curveKm[i]), y(v)])));
    });

    const xAxis = d3.axisBottom(x).tickValues(xTicks).tickFormat(d3.format("d")).tickSize(0).tickPadding(0);
    const ax = g.append("g").attr("transform", `translate(0,${row.tick - 11})`).call(xAxis);
    ax.select(".domain").remove();
    ax.selectAll("text")
      .attr("y", 0).attr("dy", "0.8em")
      .style("font-weight", "bold").style("font-size", "14.5px").attr("fill", "#1a1a1a");

    g.append("line")
      .attr("x1", 0).attr("x2", panelWidth - 1)
      .attr("y1", row.bottom).attr("y2", row.bottom)
      .attr("stroke", row.axis).attr("stroke-width", 1.5);
  });

  // y axis only on the first facet
  const yAxis = d3.axisLeft(y).tickValues(yTicks).tickFormat(d3.format(".1f")).tickSize(0).tickPadding(3);
  const ay = rowG.append("g").attr("transform", "translate(52,0)").call(yAxis);
  ay.select(".domain").remove();
  ay.selectAll("text")
    .style("font-weight", "bold").style("font-size", "14.5px").attr("fill", "#1a1a1a");
  rowG.append("line")
    .attr("x1", 51.5).attr("x2", 51.5).attr("y1", row.top).attr("y2", row.bottom)
    .attr("stroke", row.axis).attr("stroke-width", 1.5);

  rowG.append("text")
    .attr("transform", `translate(26,${(row.top + row.bottom) / 2 - 1}) rotate(-90)`)
    .attr("text-anchor", "middle")
    .attr("font-weight", "bold").attr("font-size", 20).attr("fill", "#000")
    .text("Semi\u2212Variogram");

  rowG.append("text")
    .attr("x", 558).attr("y", row.xlabel)
    .attr("text-anchor", "middle")
    .attr("font-weight", "bold").attr("font-size", 20).attr("fill", "#000")
    .text("Distance (km)");

  // legend sits inside the winter facet
  pollutants.forEach((name, k) => {
    const ly = row.legendY + k * 15;
    const lg = rowG.append("g").attr("transform", `translate(971,${ly})`);
    lg.append("line").attr("x1", 0).attr("x2", 13).attr("stroke", colors[k]).attr("stroke-width", 2.5);
    lg.append("path").attr("d", symbols[k]).attr("fill", colors[k]).attr("transform", "translate(6.5,0)");
    const t = lg.append("text").attr("x", 16).attr("y", 5.5).attr("font-size", 16).attr("fill", "#222");
    t.append("tspan").text(name);
    t.append("tspan").attr("dy", 3.5).attr("font-size", 11).text(pollutantSubs[k]);
  });
});
</script>
</body>
</html>
